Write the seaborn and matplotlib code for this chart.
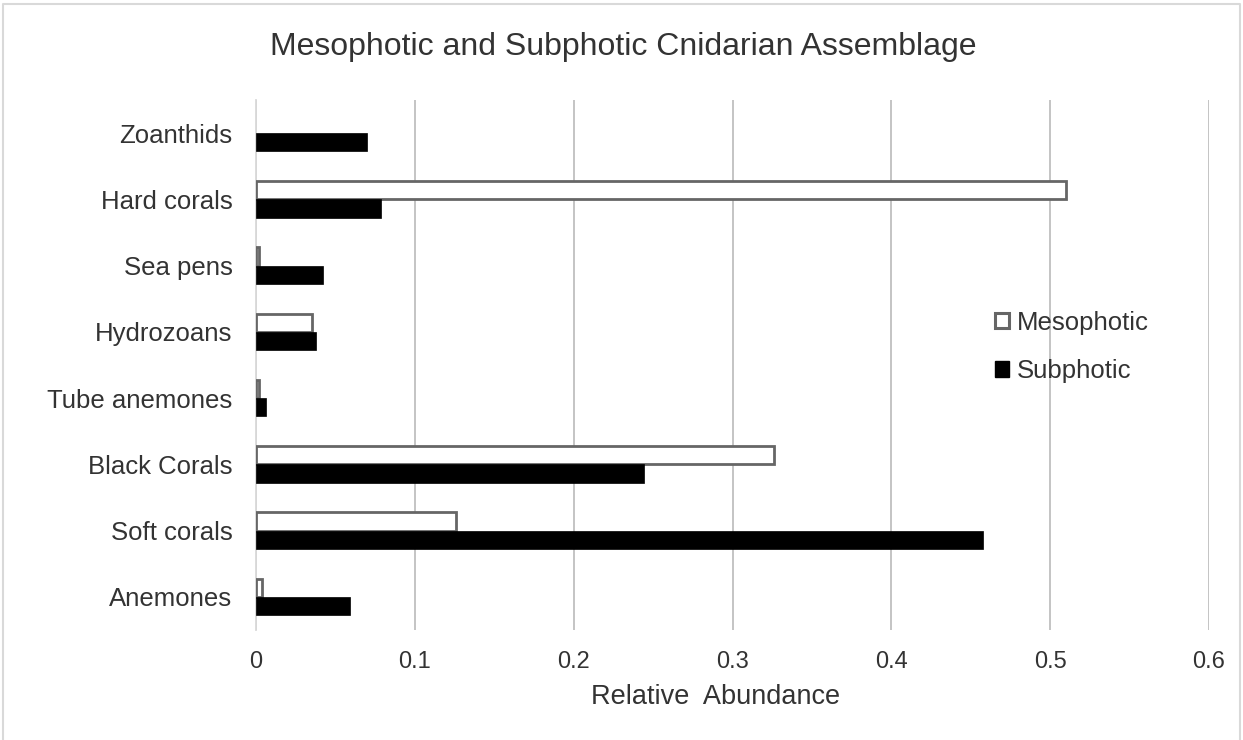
import matplotlib
matplotlib.use("Agg")
import matplotlib.pyplot as plt
from matplotlib.patches import Patch
from matplotlib.lines import Line2D
import seaborn as sns
import pandas as pd

categories = ["Zoanthids", "Hard corals", "Sea pens", "Hydrozoans",
              "Tube anemones", "Black Corals", "Soft corals", "Anemones"]
mesophotic = [0.0, 0.510, 0.002, 0.035, 0.002, 0.326, 0.126, 0.004]
subphotic = [0.070, 0.079, 0.042, 0.038, 0.006, 0.244, 0.458, 0.059]
series_names = ["Mesophotic", "Subphotic"]
x_ticks = [0, 0.1, 0.2, 0.3, 0.4, 0.5, 0.6]
x_ticklabels = ["0", "0.1", "0.2", "0.3", "0.4", "0.5", "0.6"]

df = pd.DataFrame({
    "Category": categories * 2,
    "Series": [series_names[0]] * len(categories) + [series_names[1]] * len(categories),
    "Value": mesophotic + subphotic,
})

sns.set_theme(style="white")
plt.rcParams["font.family"] = ["Liberation Sans", "DejaVu Sans"]
TXT = "#333333"

W, H = 1243, 740
fig = plt.figure(figsize=(W / 100, H / 100), dpi=100)
# chart-area border (left, top, right)
fig.add_artist(Line2D([3 / W, 3 / W, 1240 / W, 1240 / W],
                      [0, 1 - 4 / H, 1 - 4 / H, 0], transform=fig.transFigure,
                      color="#d9d9d9", linewidth=1.5))

ax = fig.add_axes([256 / W, 1 - 630 / H, (1209 - 256) / W, 530 / H])

sns.barplot(data=df, y="Category", x="Value", hue="Series", order=categories,
            hue_order=series_names, palette={"Mesophotic": "white", "Subphotic": "black"},
            orient="h", width=0.55, dodge=True, ax=ax, legend=False, zorder=3)

for patch, v in zip(ax.containers[0], mesophotic):
    patch.set_edgecolor("#666666")
    patch.set_linewidth(2.0 if v > 0 else 0)
for patch in ax.containers[1]:
    patch.set_edgecolor("black")
    patch.set_linewidth(0.5)

ax.set_xlim(0, 0.6)
ax.set_ylim(7.5, -0.5)
ax.set_xticks(x_ticks)
ax.set_xticklabels(x_ticklabels)
ax.grid(axis="x", color="#bfbfbf", linewidth=1.3, zorder=0)
ax.set_axisbelow(True)
for s in ["top", "right", "bottom"]:
    ax.spines[s].set_visible(False)
ax.spines["left"].set_color("#d9d9d9")
ax.spines["left"].set_linewidth(1.3)
ax.tick_params(axis="both", length=0, colors=TXT)
ax.tick_params(axis="x", pad=15, labelsize=17)
ax.tick_params(axis="y", pad=17, labelsize=18.5)
ax.set_ylabel("")
ax.set_xlabel("Relative  Abundance", fontsize=19.5, color=TXT)
ax.xaxis.label.set_va("center")
ax.xaxis.set_label_coords((716 - 256) / 953, -67 / 530)

fig.text(623 / W, 1 - 55 / H, "Mesophotic and Subphotic Cnidarian Assemblage",
         ha="center", va="baseline", fontsize=23, color=TXT)

handles = [Patch(facecolor="white", edgecolor="#666666", linewidth=2.2),
           Patch(facecolor="black", edgecolor="black")]
fig.legend(handles, series_names, loc="center left",
           bbox_to_anchor=(972 / W, 1 - 347 / H), frameon=False,
           handlelength=0.55, handleheight=0.55, handletextpad=0.3,
           labelspacing=0.95, fontsize=18.5, labelcolor=TXT)

fig.savefig("out.png", dpi=100)
